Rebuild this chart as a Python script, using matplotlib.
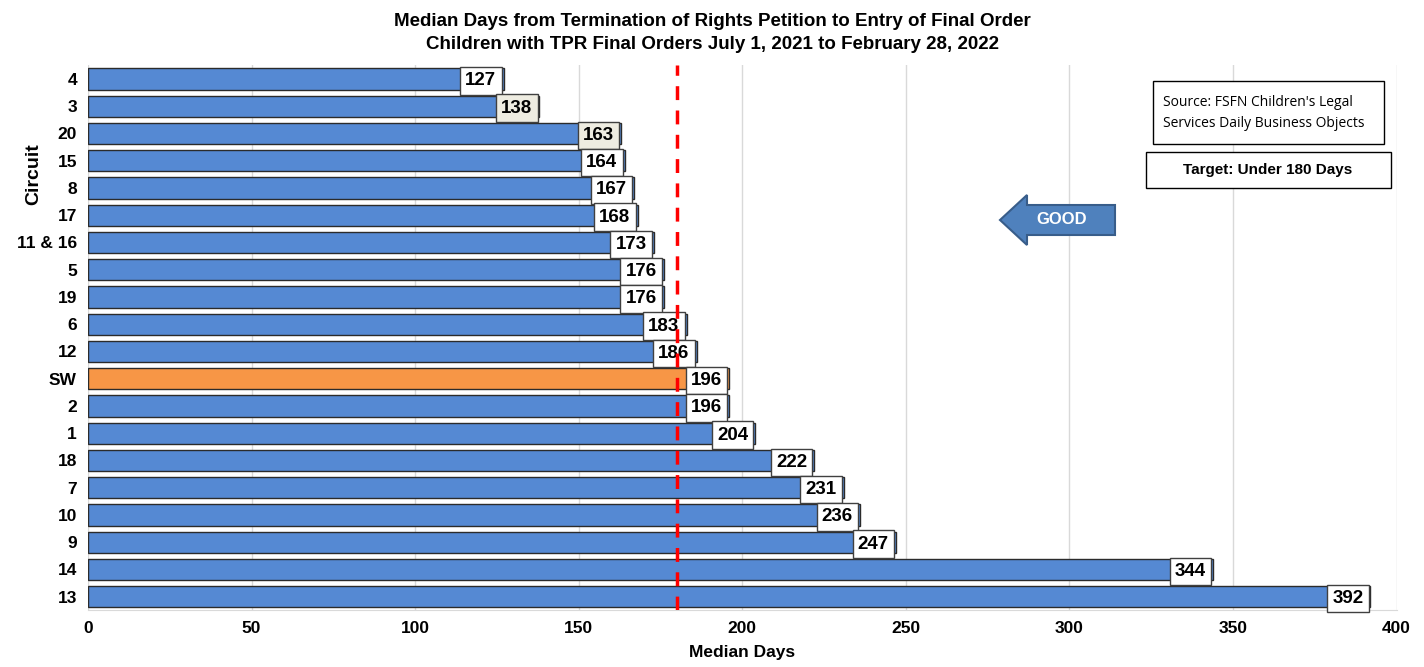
import matplotlib.pyplot as plt
from matplotlib.patches import FancyArrow, Rectangle

plt.rcParams['font.family'] = ['Liberation Sans', 'DejaVu Sans']

circuits = ["4", "3", "20", "15", "8", "17", "11 & 16", "5", "19", "6",
            "12", "SW", "2", "1", "18", "7", "10", "9", "14", "13"]
median_days = [127, 138, 163, 164, 167, 168, 173, 176, 176, 183,
               186, 196, 196, 204, 222, 231, 236, 247, 344, 392]
target = 180
x_ticks = [0, 50, 100, 150, 200, 250, 300, 350, 400]

blue = "#5589D3"
orange = "#F79646"

W, H = 1424, 667
fig = plt.figure(figsize=(W / 100, H / 100), dpi=100)
ax = fig.add_axes([0.0618, 0.085, 0.919, 0.817])

y = list(range(len(circuits)))
colors = [orange if c == "SW" else blue for c in circuits]
ax.barh(y, median_days, height=0.78, color=colors, edgecolor="#2b2b2b",
        linewidth=1.0, zorder=3)

# value labels boxed at the end of each bar
for yi, v in zip(y, median_days):
    face = "#EEECE1" if v in (138, 163) else "white"
    ax.text(v - 2.2, yi, str(v), ha="right", va="center_baseline", fontsize=13.5,
            fontweight="bold", zorder=5,
            bbox=dict(boxstyle="square,pad=0.28", fc=face, ec="#404040", lw=1.0))

# target line sits on top of the labels
ax.axvline(target, color="red", linestyle=(0, (4, 3)), linewidth=2.5, zorder=6)

ax.set_ylim(len(circuits) - 0.5, -0.5)
ax.set_xlim(0, 400)
ax.set_xticks(x_ticks)
ax.set_yticks(y)
ax.set_yticklabels(circuits)
ax.tick_params(axis="both", length=0, labelsize=12.5, pad=8)
for lbl in ax.get_xticklabels() + ax.get_yticklabels():
    lbl.set_fontweight("bold")
ax.grid(axis="x", color="#d9d9d9", linewidth=1.0, zorder=0)
for s in ["top", "right", "left"]:
    ax.spines[s].set_visible(False)
ax.spines["bottom"].set_color("#d9d9d9")

ax.set_xlabel("Median Days", fontsize=12.5, fontweight="bold", labelpad=6)
ax.set_ylabel("Circuit", fontsize=14, fontweight="bold", labelpad=4)
ax.yaxis.set_label_coords(-0.035, 0.80)

fig.text(0.5, 0.98, "Median Days from Termination of Rights Petition to Entry of Final Order\n"
         "Children with TPR Final Orders July 1, 2021 to February 28, 2022",
         ha="center", va="top", fontsize=13.5, fontweight="bold", linespacing=1.4)


def px_box(x0, y0, x1, y1):
    # rectangle given in pixel coordinates from the top-left corner
    fig.patches.append(Rectangle((x0 / W, 1 - y1 / H), (x1 - x0) / W, (y1 - y0) / H,
                                 transform=fig.transFigure, fc="white", ec="black",
                                 lw=1.0, zorder=6))


# source and target notes
px_box(1153, 81, 1384, 144)
fig.text(1163 / W, 1 - 113 / H, "Source: FSFN Children's Legal\nServices Daily Business Objects",
         ha="left", va="center", fontsize=10, family=["Open Sans", "DejaVu Sans"],
         linespacing=1.55, zorder=7)
px_box(1146, 152, 1391, 188)
fig.text(1268 / W, 1 - 170 / H, "Target: Under 180 Days", ha="center", va="center",
         fontsize=11, fontweight="bold", zorder=7)

# "GOOD" arrow pointing left
arrow = FancyArrow(1115 / W, 1 - 220 / H, -115 / W, 0, width=30 / H, head_width=50 / H,
                   head_length=27 / W, length_includes_head=True,
                   transform=fig.transFigure, fc="#4F81BD", ec="#385D8A", lw=1.5)
fig.patches.append(arrow)
fig.text(1062 / W, 1 - 219 / H, "GOOD", ha="center", va="center", fontsize=12,
         fontweight="bold", color="white")

plt.savefig("out.png", dpi=100)
